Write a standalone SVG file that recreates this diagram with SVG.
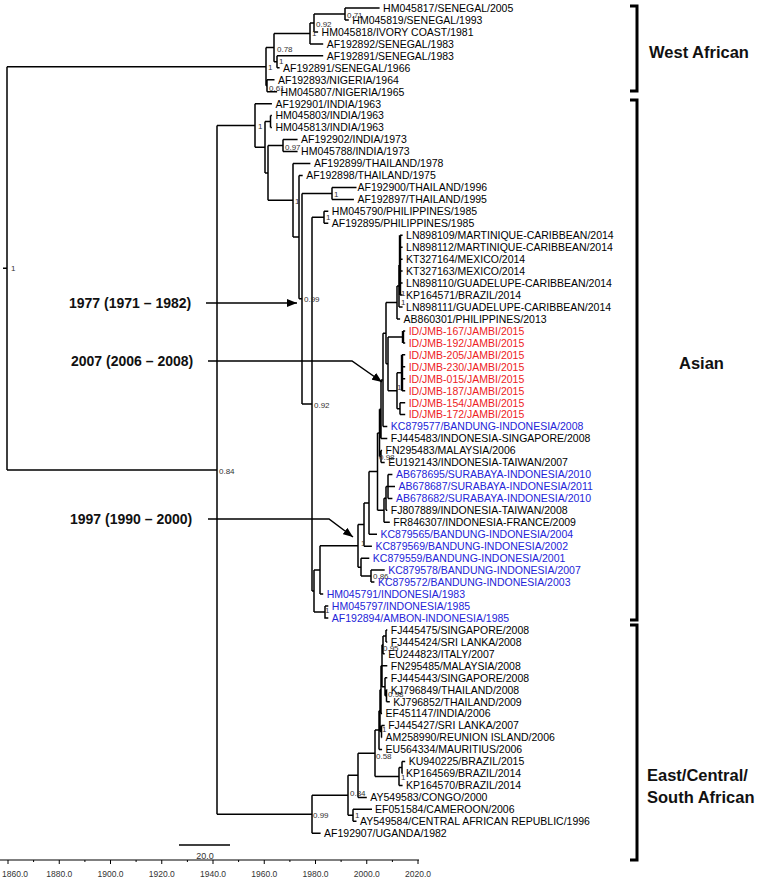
<svg xmlns="http://www.w3.org/2000/svg" width="757" height="881" viewBox="0 0 757 881" xml:space="preserve">
<style>
.lf{font-family:"Liberation Sans",Arial,sans-serif;font-size:10.5px;fill:#000}
.rd{fill:#ee1c24}
.bl{fill:#2424d8}
.nl{font-family:"Liberation Sans",Arial,sans-serif;font-size:8px;fill:#333}
.an{font-family:"Liberation Sans",Arial,sans-serif;font-size:14px;font-weight:bold;fill:#111}
.cl{font-family:"Liberation Sans",Arial,sans-serif;font-size:16.5px;font-weight:bold;fill:#111}
.ax{font-family:"Liberation Sans",Arial,sans-serif;font-size:8.5px;fill:#333}
.tr{fill:none;stroke:#000;stroke-width:1.5}
.th{fill:none;stroke:#000;stroke-width:2.4}
.br{fill:none;stroke:#000;stroke-width:3}
.ar{fill:none;stroke:#000;stroke-width:1.5}
</style>
<defs>
<marker id="ah" viewBox="0 0 10 8" refX="10" refY="4" markerWidth="10" markerHeight="8" markerUnits="userSpaceOnUse" orient="auto"><path d="M0,0 L10,4 L0,8 z" fill="#000"/></marker>
</defs>
<g id="connectors">
<path class="tr" d="M7,66.7 V469.9 M3,268.3 H7 M7,66.7 H266 M7,469.9 H217"/>
<path class="tr" d="M266,47.6 V85.7 M266,47.6 H274 M266,85.7 H267 M274,33.4 V61.8 M274,33.4 H310 M274,61.8 H277 M310,23 V43.9 M310,23 H314 M310,43.9 H323.2 M314,14 V31.9 M314,14 H345 M314,31.9 H318.1 M345,8 V20 M345,8 H379.6 M345,20 H348.8 M277,55.8 V67.8 M277,55.8 H323.2 M277,67.8 H279.6 M267,79.8 V91.7 M267,79.8 H274.5 M267,91.7 H277.1"/>
<path class="tr" d="M217,125.5 V814.25 M217,125.5 H255 M217,814.25 H312"/>
<path class="tr" d="M255,103.7 V147.25 M255,103.7 H271.9 M255,147.25 H265 M265,121.6 V172.9 M265,121.6 H270.5 M265,172.9 H268 M270.5,115.6 V127.6 M270.5,115.6 H271.9 M270.5,127.6 H271.9 M268,145.55 V200.3 M268,145.55 H283 M268,200.3 H293 M283,139.6 V151.5 M283,139.6 H297.6 M283,151.5 H297.6 M293,163.5 V237.1 M293,163.5 H310.4 M293,237.1 H299 M299,175.4 V298.75 M299,175.4 H302.7 M299,298.75 H302 M302,193.4 V404.1 M302,193.4 H332 M302,404.1 H312 M332,187.4 V199.4 M332,187.4 H356.5 M332,199.4 H353.9 M312,217.3 V590.95 M312,217.3 H324 M312,590.95 H314 M324,211.3 V223.3 M324,211.3 H328.3 M324,223.3 H328.3"/>
<path class="tr" d="M314,569.9 V612 M314,569.9 H320 M314,612 H325 M325,606 V618 H328.3 M325,606 H328.3 M320,545.85 V594 M320,545.85 H358 M320,594 H323.2 M358,524.55 V567.15 M358,524.55 H364 M358,567.15 H361 M364,502.9 V546.2 M364,502.9 H369 M364,546.2 H371.9 M369,471.6 V534.2 M369,471.6 H377.5 M369,534.2 H377 M377.5,432.9 V510.3 M377.5,432.9 H379.5 M377.5,510.3 H384 M379.5,409.25 V456.5 M379.5,409.25 H381 M379.5,456.5 H381 M381,379.9 V438.6 M381,379.9 H383 M381,438.6 H387.3 M381,450.5 V462.5 M381,450.5 H382.1 M381,462.5 H384.7 M383,333.15 V426.6 M383,333.15 H386 M383,426.6 H387.3 M386,302.5 V363.8 M386,302.5 H397 M386,363.8 H388"/>
<path class="tr" d="M397,286.05 V319 M397,286.05 H399 M397,319 H400.1 M399,265.1 V307 M399,265.1 H400 M399,307 H402.6 M400,235.2 H402.6 M400,247.2 H402.6 M400,259.2 H402.6 M400,271.1 H402.6 M400,283.1 H402.6 M400,295 H402.6"/>
<path class="th" d="M400,235.2 V295"/>
<path class="tr" d="M388,336.9 V390.7 M388,336.9 H403 M388,390.7 H397 M403,330.9 H405.2 M403,342.9 H405.2 M397,372.75 V408.65 M397,372.75 H402 M397,408.65 H400 M402,354.8 H405.2 M402,366.8 H405.2 M402,378.8 H405.2 M402,390.7 H405.2 M400,402.7 V414.6 M400,402.7 H405.2 M400,414.6 H405.2"/>
<path class="th" d="M403,330.9 V342.9 M402,354.8 V390.7"/>
<path class="tr" d="M384,498.35 V522.3 M384,498.35 H386 M384,522.3 H389.8 M386,486.4 V510.3 M386,486.4 H388 M386,510.3 H387.3 M388,474.4 V498.4 M388,474.4 H392.4 M388,486.4 H395 M388,498.4 H392.4 M361,558.2 V576.1 M361,558.2 H369.3 M361,576.1 H371 M371,570.1 V582.1 M371,570.1 H384.7 M371,582.1 H374.4"/>
<path class="tr" d="M312,795.3 V833.2 M312,795.3 H348 M312,833.2 H320.6 M348,775.3 V815.3 M348,775.3 H358 M348,815.3 H353 M353,809.3 V821.3 M353,809.3 H372 M353,821.3 H356.5 M358,753.25 V797.4 M358,753.25 H375 M358,797.4 H366.8 M375,730.1 V776.4 M375,730.1 H379 M375,776.4 H399 M399,767.45 V785.4 M399,767.45 H402 M399,785.4 H402.6 M402,761.5 V773.4 M402,761.5 H405.2 M402,773.4 H402.6"/>
<path class="tr" d="M379,710.65 V749.5 M379,710.65 H380 M379,749.5 H382.1 M380,689.7 V731.6 M380,689.7 H381 M380,731.6 H381.5 M381.5,725.6 V737.6 M381.5,725.6 H384.7 M381.5,737.6 H382.1 M381,665.8 V713.6 M381,665.8 H382 M381,713.6 H382.1 M382,644.85 V686.75 M382,644.85 H383 M382,665.8 H387.3 M382,686.75 H385 M383,635.9 V653.8 M383,635.9 H386 M383,653.8 H384.7 M386,629.9 V641.9 M386,629.9 H387.3 M386,641.9 H387.3 M385,677.8 V695.7 M385,677.8 H387.3 M385,695.7 H386.5 M386.5,689.7 V701.7 M386.5,689.7 H387.3 M386.5,701.7 H389.8"/>
<path class="ar" d="M206,303 H297" marker-end="url(#ah)"/>
<path class="ar" d="M208,361 H352 L382,382" marker-end="url(#ah)"/>
<path class="ar" d="M208,519 H329 L353,537" marker-end="url(#ah)"/>
</g>
<g id="node-labels">
<text class="nl" x="11" y="271">1</text>
<text class="nl" x="347" y="18">0.71</text>
<text class="nl" x="316" y="27">0.92</text>
<text class="nl" x="312" y="36">1</text>
<text class="nl" x="277" y="52">0.78</text>
<text class="nl" x="279" y="64">1</text>
<text class="nl" x="268" y="70">1</text>
<text class="nl" x="269" y="91">0.61</text>
<text class="nl" x="258" y="129">1</text>
<text class="nl" x="285" y="150">0.97</text>
<text class="nl" x="295" y="204">1</text>
<text class="nl" x="334" y="197">1</text>
<text class="nl" x="326" y="220">1</text>
<text class="nl" x="304" y="302">0.99</text>
<text class="nl" x="314" y="408">0.92</text>
<text class="nl" x="219" y="474">0.84</text>
<text class="nl" x="401" y="296">1</text>
<text class="nl" x="401" y="305">1</text>
<text class="nl" x="397" y="390">1</text>
<text class="nl" x="379" y="460">0.98</text>
<text class="nl" x="361" y="546">1</text>
<text class="nl" x="373" y="579">0.86</text>
<text class="nl" x="325" y="613">1</text>
<text class="nl" x="383" y="651">0.95</text>
<text class="nl" x="388" y="697">0.98</text>
<text class="nl" x="382" y="732">1</text>
<text class="nl" x="376" y="759">0.58</text>
<text class="nl" x="401" y="780">1</text>
<text class="nl" x="350" y="796">0.84</text>
<text class="nl" x="313" y="818">0.99</text>
<text class="nl" x="355" y="818">1</text>
</g>
<g id="clade-west-african"><path class="br" d="M630,6 H637 V91 H630"/><text class="cl" x="649" y="58">West African</text></g>
<g id="clade-asian"><path class="br" d="M630,100 H637 V620 H630"/><text class="cl" x="679" y="369">Asian</text></g>
<g id="clade-ecsa"><path class="br" d="M630,625 H637 V860 H630"/><text class="cl" x="647" y="781">East/Central/</text><text class="cl" x="647" y="803">South African</text></g>
<g id="annotation-1977"><text class="an" x="69" y="308">1977 (1971 – 1982)</text></g>
<g id="annotation-2007"><text class="an" x="71" y="366">2007 (2006 – 2008)</text></g>
<g id="annotation-1997"><text class="an" x="70" y="524">1997 (1990 – 2000)</text></g>
<g id="leaves">
<g id="n0"><text class="lf" x="383.1" y="11.8">HM045817/SENEGAL/2005</text></g>
<g id="n1"><text class="lf" x="352.3" y="23.8">HM045819/SENEGAL/1993</text></g>
<g id="n2"><text class="lf" x="321.6" y="35.7">HM045818/IVORY  COAST/1981</text></g>
<g id="n3"><text class="lf" x="326.7" y="47.7">AF192892/SENEGAL/1983</text></g>
<g id="n4"><text class="lf" x="326.7" y="59.6">AF192891/SENEGAL/1983</text></g>
<g id="n5"><text class="lf" x="283.1" y="71.6">AF192891/SENEGAL/1966</text></g>
<g id="n6"><text class="lf" x="278" y="83.6">AF192893/NIGERIA/1964</text></g>
<g id="n7"><text class="lf" x="280.6" y="95.5">HM045807/NIGERIA/1965</text></g>
<g id="n8"><text class="lf" x="275.4" y="107.5">AF192901/INDIA/1963</text></g>
<g id="n9"><text class="lf" x="275.4" y="119.4">HM045803/INDIA/1963</text></g>
<g id="n10"><text class="lf" x="275.4" y="131.4">HM045813/INDIA/1963</text></g>
<g id="n11"><text class="lf" x="301.1" y="143.4">AF192902/INDIA/1973</text></g>
<g id="n12"><text class="lf" x="301.1" y="155.3">HM045788/INDIA/1973</text></g>
<g id="n13"><text class="lf" x="313.9" y="167.3">AF192899/THAILAND/1978</text></g>
<g id="n14"><text class="lf" x="306.2" y="179.2">AF192898/THAILAND/1975</text></g>
<g id="n15"><text class="lf" x="357.5" y="191.2">AF192900/THAILAND/1996</text></g>
<g id="n16"><text class="lf" x="357.4" y="203.2">AF192897/THAILAND/1995</text></g>
<g id="n17"><text class="lf" x="331.8" y="215.1">HM045790/PHILIPPINES/1985</text></g>
<g id="n18"><text class="lf" x="331.8" y="227.1">AF192895/PHILIPPINES/1985</text></g>
<g id="n19"><text class="lf" x="406.1" y="239">LN898109/MARTINIQUE-CARIBBEAN/2014</text></g>
<g id="n20"><text class="lf" x="406.1" y="251">LN898112/MARTINIQUE-CARIBBEAN/2014</text></g>
<g id="n21"><text class="lf" x="406.1" y="263">KT327164/MEXICO/2014</text></g>
<g id="n22"><text class="lf" x="406.1" y="274.9">KT327163/MEXICO/2014</text></g>
<g id="n23"><text class="lf" x="406.1" y="286.9">LN898110/GUADELUPE-CARIBBEAN/2014</text></g>
<g id="n24"><text class="lf" x="406.1" y="298.8">KP164571/BRAZIL/2014</text></g>
<g id="n25"><text class="lf" x="406.1" y="310.8">LN898111/GUADELUPE-CARIBBEAN/2014</text></g>
<g id="n26"><text class="lf" x="403.6" y="322.8">AB860301/PHILIPPINES/2013</text></g>
<g id="n27"><text class="lf rd" x="408.7" y="334.7">ID/JMB-167/JAMBI/2015</text></g>
<g id="n28"><text class="lf rd" x="408.7" y="346.7">ID/JMB-192/JAMBI/2015</text></g>
<g id="n29"><text class="lf rd" x="408.7" y="358.6">ID/JMB-205/JAMBI/2015</text></g>
<g id="n30"><text class="lf rd" x="408.7" y="370.6">ID/JMB-230/JAMBI/2015</text></g>
<g id="n31"><text class="lf rd" x="408.7" y="382.6">ID/JMB-015/JAMBI/2015</text></g>
<g id="n32"><text class="lf rd" x="408.7" y="394.5">ID/JMB-187/JAMBI/2015</text></g>
<g id="n33"><text class="lf rd" x="408.7" y="406.5">ID/JMB-154/JAMBI/2015</text></g>
<g id="n34"><text class="lf rd" x="408.7" y="418.4">ID/JMB-172/JAMBI/2015</text></g>
<g id="n35"><text class="lf bl" x="390.8" y="430.4">KC879577/BANDUNG-INDONESIA/2008</text></g>
<g id="n36"><text class="lf" x="390.8" y="442.4">FJ445483/INDONESIA-SINGAPORE/2008</text></g>
<g id="n37"><text class="lf" x="385.6" y="454.3">FN295483/MALAYSIA/2006</text></g>
<g id="n38"><text class="lf" x="388.2" y="466.3">EU192143/INDONESIA-TAIWAN/2007</text></g>
<g id="n39"><text class="lf bl" x="395.9" y="478.2">AB678695/SURABAYA-INDONESIA/2010</text></g>
<g id="n40"><text class="lf bl" x="398.5" y="490.2">AB678687/SURABAYA-INDONESIA/2011</text></g>
<g id="n41"><text class="lf bl" x="395.9" y="502.2">AB678682/SURABAYA-INDONESIA/2010</text></g>
<g id="n42"><text class="lf" x="390.8" y="514.1">FJ807889/INDONESIA-TAIWAN/2008</text></g>
<g id="n43"><text class="lf" x="393.3" y="526.1">FR846307/INDONESIA-FRANCE/2009</text></g>
<g id="n44"><text class="lf bl" x="380.5" y="538">KC879565/BANDUNG-INDONESIA/2004</text></g>
<g id="n45"><text class="lf bl" x="375.4" y="550">KC879569/BANDUNG-INDONESIA/2002</text></g>
<g id="n46"><text class="lf bl" x="372.8" y="562">KC879559/BANDUNG-INDONESIA/2001</text></g>
<g id="n47"><text class="lf bl" x="388.2" y="573.9">KC879578/BANDUNG-INDONESIA/2007</text></g>
<g id="n48"><text class="lf bl" x="377.9" y="585.9">KC879572/BANDUNG-INDONESIA/2003</text></g>
<g id="n49"><text class="lf bl" x="326.7" y="597.8">HM045791/INDONESIA/1983</text></g>
<g id="n50"><text class="lf bl" x="331.8" y="609.8">HM045797/INDONESIA/1985</text></g>
<g id="n51"><text class="lf bl" x="331.8" y="621.8">AF192894/AMBON-INDONESIA/1985</text></g>
<g id="n52"><text class="lf" x="390.8" y="633.7">FJ445475/SINGAPORE/2008</text></g>
<g id="n53"><text class="lf" x="390.8" y="645.7">FJ445424/SRI  LANKA/2008</text></g>
<g id="n54"><text class="lf" x="388.2" y="657.6">EU244823/ITALY/2007</text></g>
<g id="n55"><text class="lf" x="390.8" y="669.6">FN295485/MALAYSIA/2008</text></g>
<g id="n56"><text class="lf" x="390.8" y="681.6">FJ445443/SINGAPORE/2008</text></g>
<g id="n57"><text class="lf" x="390.8" y="693.5">KJ796849/THAILAND/2008</text></g>
<g id="n58"><text class="lf" x="393.3" y="705.5">KJ796852/THAILAND/2009</text></g>
<g id="n59"><text class="lf" x="385.6" y="717.4">EF451147/INDIA/2006</text></g>
<g id="n60"><text class="lf" x="388.2" y="729.4">FJ445427/SRI  LANKA/2007</text></g>
<g id="n61"><text class="lf" x="385.6" y="741.4">AM258990/REUNION  ISLAND/2006</text></g>
<g id="n62"><text class="lf" x="385.6" y="753.3">EU564334/MAURITIUS/2006</text></g>
<g id="n63"><text class="lf" x="408.7" y="765.3">KU940225/BRAZIL/2015</text></g>
<g id="n64"><text class="lf" x="406.1" y="777.2">KP164569/BRAZIL/2014</text></g>
<g id="n65"><text class="lf" x="406.1" y="789.2">KP164570/BRAZIL/2014</text></g>
<g id="n66"><text class="lf" x="370.3" y="801.2">AY549583/CONGO/2000</text></g>
<g id="n67"><text class="lf" x="375" y="813.1">EF051584/CAMEROON/2006</text></g>
<g id="n68"><text class="lf" x="360" y="825.1">AY549584/CENTRAL AFRICAN REPUBLIC/1996</text></g>
<g id="n69"><text class="lf" x="324.1" y="837">AF192907/UGANDA/1982</text></g>
</g>
<g id="scale-bar"><path class="tr" d="M179,845 H230"/><text class="ax" x="205" y="858.5" text-anchor="middle" style="font-size:9px">20.0</text></g>
<g id="time-axis">
<path class="tr" d="M0,860 H419" style="stroke-width:1.2"/>
<path class="tr" style="stroke-width:1" d="M8,860 V864 M59.25,860 V864 M110.5,860 V864 M161.75,860 V864 M213,860 V864 M264.25,860 V864 M315.5,860 V864 M366.75,860 V864 M418,860 V864 M33.6,860 V862 M84.9,860 V862 M136.1,860 V862 M187.4,860 V862 M238.6,860 V862 M289.9,860 V862 M341.1,860 V862 M392.4,860 V862"/>
<text class="ax" x="2" y="877">1860.0</text>
<text class="ax" x="59.25" y="877" text-anchor="middle">1880.0</text>
<text class="ax" x="110.5" y="877" text-anchor="middle">1900.0</text>
<text class="ax" x="161.75" y="877" text-anchor="middle">1920.0</text>
<text class="ax" x="213" y="877" text-anchor="middle">1940.0</text>
<text class="ax" x="264.25" y="877" text-anchor="middle">1960.0</text>
<text class="ax" x="315.5" y="877" text-anchor="middle">1980.0</text>
<text class="ax" x="366.75" y="877" text-anchor="middle">2000.0</text>
<text class="ax" x="418" y="877" text-anchor="middle">2020.0</text>
</g>
</svg>
